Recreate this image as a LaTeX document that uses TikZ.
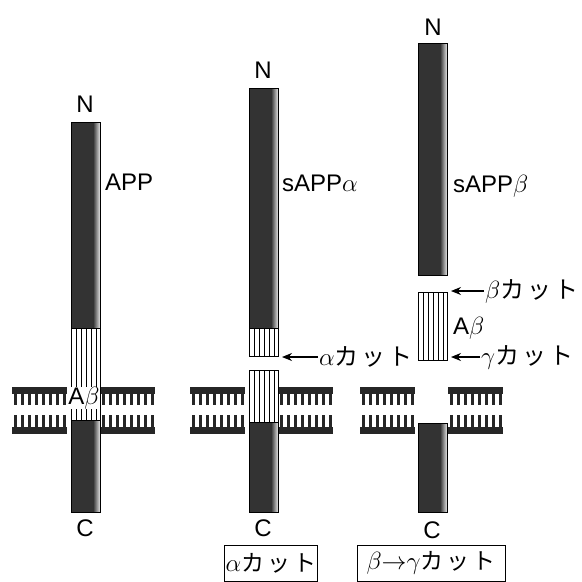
\documentclass[tikz,border=0pt]{standalone}
\usepackage{fontspec}
\setmainfont{Liberation Sans}
\newfontfamily\jp{Noto Sans CJK JP}
\usetikzlibrary{arrows.meta}

\tikzset{
    lbl/.style={font=\fontsize{24}{26}\selectfont, inner sep=1pt},
    cut/.style={font=\fontsize{24}{26}\selectfont, inner sep=1pt, anchor=west},
    cutarrow/.style={-{Stealth[length=10pt, width=8pt]}, line width=1.2pt},
    tail/.style={line width=3.2pt, black!85},
}

% "カット" с разрядкой
\newcommand{\katto}{{\jp カ\hspace{3pt}ッ\hspace{3pt}ト}}

% тёмный участок белка: x, верх, низ
\newcommand{\darkbar}[3]{%
    \fill[black!80] (#1,#2) rectangle ({#1+22},#3);
    \shade[left color=black!80, right color=black!10] ({#1+22},#2) rectangle ({#1+29},#3);
    \draw[line width=0.6pt] (#1,#2) rectangle ({#1+29},#3);
}
% полосатый участок (A-beta)
\newcommand{\stripebar}[3]{%
    \draw[fill=white, line width=0.8pt] (#1,#2) rectangle ({#1+29},#3);
    \foreach \i in {5,10,...,25} \draw[line width=0.8pt] ({#1+\i},#2) -- ({#1+\i},#3);
}
% верхний и нижний слой мембраны
\newcommand{\leafup}[1]{%
    \fill[black!85] (#1,387) rectangle ({#1+55},394);
    \foreach \t in {0,...,7} \draw[tail] ({#1+3.5+7*\t},393) -- ++(0,12);
}
\newcommand{\leafdown}[1]{%
    \fill[black!85] (#1,427) rectangle ({#1+55},434);
    \foreach \t in {0,...,7} \draw[tail] ({#1+3.5+7*\t},415) -- ++(0,13);
}

\begin{document}
\begin{tikzpicture}[x=1pt, y=-1pt]
    \useasboundingbox (0,0) rectangle (582,582);
    % мембраны
    \foreach \m in {12,100,190,278,360,448} {\leafup{\m} \leafdown{\m}}

    % APP
    \darkbar{71}{122}{328}
    \stripebar{71}{328}{420}
    \darkbar{71}{420}{512}
    \node[lbl] (n1) at (85,104) {N};
    \node[lbl, anchor=west] (app) at (104,182) {APP};
    \node[lbl, fill=white, inner sep=0pt] (ab1) at (84,398) {A$\beta$};
    \node[lbl] (c1) at (85,528) {C};

    % альфа-секретаза
    \darkbar{249}{88}{328}
    \stripebar{249}{328}{356}
    \stripebar{249}{370}{422}
    \darkbar{249}{422}{512}
    \node[lbl] (n2) at (263,70) {N};
    \node[lbl, anchor=west] (sa) at (281,183) {sAPP$\alpha$};
    \node[lbl] (c2) at (263,528) {C};
    \node[cut] (acut) at (318,357) {$\alpha$\katto};
    \coordinate (acutp) at (282,357);
    \draw[cutarrow] (acut.west) -- (acutp);

    % бета- и гамма-секретаза
    \darkbar{418}{43}{275}
    \stripebar{418}{292}{360}
    \darkbar{418}{423}{512}
    \node[lbl] (n3) at (433,27) {N};
    \node[lbl, anchor=west] (sb) at (452,186) {sAPP$\beta$};
    \node[lbl, anchor=west] (ab3) at (452,328) {A$\beta$};
    \node[lbl] (c3) at (432,530) {C};
    \node[cut] (bcut) at (484,291) {$\beta$\katto};
    \coordinate (bcutp) at (451,291);
    \draw[cutarrow] (bcut.west) -- (bcutp);
    \node[cut] (gcut) at (480,357) {$\gamma$\katto};
    \coordinate (gcutp) at (451,357);
    \draw[cutarrow] (gcut.west) -- (gcutp);

    % подписи снизу
    \node[draw, line width=0.8pt, minimum width=72pt, minimum height=36pt, inner sep=1pt, font=\fontsize{23}{26}\selectfont] (box1) at (271,563) {$\alpha$\katto};
    \node[draw, line width=0.8pt, minimum width=148pt, minimum height=36pt, font=\fontsize{23}{26}\selectfont] (box2) at (431,563) {$\beta$$\rightarrow$$\gamma$\katto};
\end{tikzpicture}
\end{document}
